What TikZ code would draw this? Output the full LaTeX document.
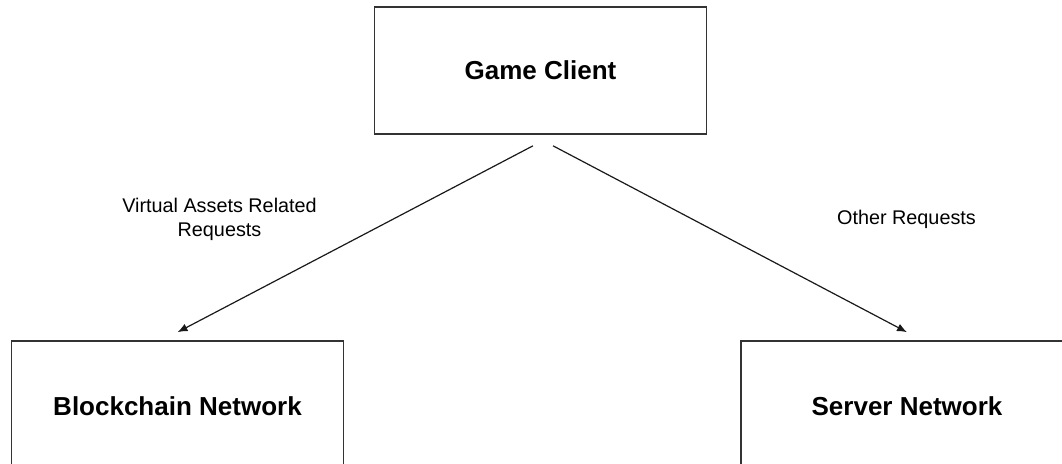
\documentclass[tikz,border=0pt]{standalone}
\usepackage{fontspec}
\setmainfont{Liberation Sans}
\usetikzlibrary{arrows.meta}
\definecolor{boxline}{HTML}{333333}
\begin{document}
\begin{tikzpicture}[x=1pt,y=-1pt,
  box/.style={draw=boxline,line width=1.6pt,minimum width=332pt,minimum height=127pt,inner sep=0pt,font=\fontsize{26}{30}\selectfont\bfseries},
  lowbox/.style={box,minimum height=130pt},
  lbl/.style={font=\fontsize{19.8}{24}\selectfont,align=center,inner sep=0pt},
  arr/.style={draw=black!90,line width=1.2pt,-{Latex[length=10pt,width=8pt]}}]
\useasboundingbox (0,0) rectangle (1062,463);
\clip (0,0) rectangle (1062,463);
\node[box] (game) at (540.5,70.5) {Game Client};
\node[lowbox] (bc) at (177.5,406) {Blockchain Network};
\node[lowbox] (sn) at (907,406) {Server Network};
\node[lbl] (l1) at (219.5,219) {Virtual Assets Related\\Requests};
\node[lbl] (l2) at (906.5,219) {Other Requests};
\draw[arr] ([xshift=-7.5pt,yshift=-11pt]game.south) -- ([yshift=8pt]bc.north);
\draw[arr] ([xshift=12.5pt,yshift=-11pt]game.south) -- ([yshift=8pt]sn.north);
\end{tikzpicture}
\end{document}
